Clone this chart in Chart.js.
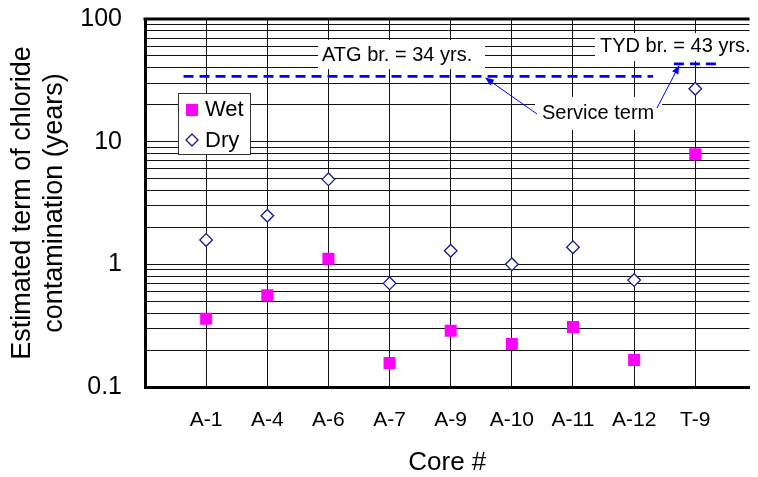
<!DOCTYPE html>
<html>
<head>
<meta charset="utf-8">
<script src="https://cdn.jsdelivr.net/npm/chart.js@4/dist/chart.umd.min.js"></script>
<style>
  html, body { margin: 0; padding: 0; background: #fff; overflow: hidden; }
  canvas { display: block; }
</style>
</head>
<body>
<canvas id="chart" width="758" height="477"></canvas>
<script>
// Core samples and estimated term of chloride contamination (years)
const cores = ['A-1', 'A-4', 'A-6', 'A-7', 'A-9', 'A-10', 'A-11', 'A-12', 'T-9'];
const wetTerm = [0.36, 0.56, 1.11, 0.157, 0.288, 0.224, 0.308, 0.166, 7.9];
const dryTerm = [1.58, 2.49, 4.93, 0.70, 1.29, 1.0, 1.38, 0.744, 27];

// Service terms of the two bridges (years)
const atgService = 34;
const tydService = 43;

// Labelled y ticks (decades); gridlines are drawn at every 1..9 step of each decade
const yLabelTicks = [0.1, 1, 10, 100];

const FONT = "'Liberation Sans', Arial, sans-serif";
const BLUE = '#0000ff';

// Horizontal extents of the service-term lines, in category units
const atgSpan = [0.63, 8.31];
const tydSpan = [8.65, 9.37];

const yGrid = [];
for (let e = -1; e <= 1; e++) {
  for (let m = 1; m <= 9; m++) yGrid.push(+(m * Math.pow(10, e)).toPrecision(3));
}
yGrid.push(100);

const toPoints = arr => arr.map((v, i) => ({ x: i + 1, y: v }));

function arrow(ctx, x0, y0, x1, y1) {
  const ang = Math.atan2(y1 - y0, x1 - x0);
  const len = 9, half = 3.5;
  ctx.save();
  ctx.strokeStyle = BLUE;
  ctx.fillStyle = BLUE;
  ctx.lineWidth = 1;
  ctx.beginPath();
  ctx.moveTo(x0, y0);
  ctx.lineTo(x1 - Math.cos(ang) * len * 0.8, y1 - Math.sin(ang) * len * 0.8);
  ctx.stroke();
  ctx.beginPath();
  ctx.moveTo(x1, y1);
  ctx.lineTo(x1 - Math.cos(ang) * len - Math.sin(ang) * half, y1 - Math.sin(ang) * len + Math.cos(ang) * half);
  ctx.lineTo(x1 - Math.cos(ang) * len + Math.sin(ang) * half, y1 - Math.sin(ang) * len - Math.cos(ang) * half);
  ctx.closePath();
  ctx.fill();
  ctx.restore();
}

function labelBox(ctx, text, x0, y0, x1, y1, tx, ty) {
  ctx.save();
  ctx.fillStyle = '#fff';
  ctx.fillRect(x0, y0, x1 - x0, y1 - y0);
  ctx.fillStyle = '#000';
  ctx.font = '20px ' + FONT;
  ctx.textAlign = 'left';
  ctx.textBaseline = 'middle';
  ctx.fillText(text, tx, ty);
  ctx.restore();
}

const decorations = {
  id: 'decorations',
  beforeDatasetsDraw(chart) {
    const ctx = chart.ctx;
    labelBox(ctx, 'ATG br. = ' + atgService + ' yrs.', 318, 40, 485, 69, 322, 55.5);
    labelBox(ctx, 'TYD br. = ' + tydService + ' yrs.', 595, 33, 758, 61, 600, 46);
    labelBox(ctx, 'Service term', 535, 97, 662, 130, 542, 113);
  },
  afterDatasetsDraw(chart) {
    const ctx = chart.ctx;
    const xs = chart.scales.x, ys = chart.scales.y;
    // arrows from the "Service term" note to both service lines
    arrow(ctx, 537, 114, xs.getPixelForValue(5.56), ys.getPixelForValue(atgService) + 1);
    arrow(ctx, 657, 108, xs.getPixelForValue(8.74), ys.getPixelForValue(tydService) + 1);

    // legend
    ctx.save();
    ctx.fillStyle = '#fff';
    ctx.fillRect(178.5, 93.5, 72, 61);
    ctx.strokeStyle = '#333';
    ctx.lineWidth = 1;
    ctx.strokeRect(178.5, 93.5, 72, 61);
    ctx.fillStyle = '#ff00ff';
    ctx.fillRect(186, 104, 12, 12);
    ctx.beginPath();
    ctx.moveTo(192, 134); ctx.lineTo(198, 140); ctx.lineTo(192, 146); ctx.lineTo(186, 140); ctx.closePath();
    ctx.fillStyle = '#fff';
    ctx.fill();
    ctx.strokeStyle = '#1a1a8c';
    ctx.lineWidth = 1.3;
    ctx.stroke();
    ctx.fillStyle = '#000';
    ctx.font = '22px ' + FONT;
    ctx.textAlign = 'left';
    ctx.textBaseline = 'middle';
    ctx.fillText('Wet', 205, 110);
    ctx.fillText('Dry', 205, 141);
    ctx.restore();
  },
  afterDraw(chart) {
    const { ctx, chartArea } = chart;
    ctx.save();
    ctx.strokeStyle = '#000';
    ctx.lineWidth = 3;
    ctx.beginPath();
    ctx.moveTo(chartArea.left - 1.5, chartArea.top);
    ctx.lineTo(chartArea.right, chartArea.top);
    ctx.stroke();
    ctx.restore();
  }
};

new Chart(document.getElementById('chart'), {
  type: 'scatter',
  data: {
    datasets: [
      {
        label: 'Wet',
        data: toPoints(wetTerm),
        pointStyle: 'rect',
        pointRadius: 8.5,
        backgroundColor: '#ff00ff',
        borderWidth: 0
      },
      {
        label: 'Dry',
        data: toPoints(dryTerm),
        pointStyle: 'rectRot',
        pointRadius: 6.3,
        backgroundColor: '#fff',
        borderColor: '#1a1a8c',
        borderWidth: 1.3
      },
      {
        label: 'ATG service term',
        data: [{ x: atgSpan[0], y: atgService }, { x: atgSpan[1], y: atgService }],
        showLine: true,
        pointRadius: 0,
        borderColor: BLUE,
        borderWidth: 2.7,
        borderDash: [10, 6]
      },
      {
        label: 'TYD service term',
        data: [{ x: tydSpan[0], y: tydService }, { x: tydSpan[1], y: tydService }],
        showLine: true,
        pointRadius: 0,
        borderColor: BLUE,
        borderWidth: 2.7,
        borderDash: [10, 6]
      }
    ]
  },
  options: {
    responsive: false,
    animation: false,
    devicePixelRatio: 1,
    layout: { padding: { top: 19, right: 0, left: 0, bottom: 0 } },
    plugins: { legend: { display: false }, tooltip: { enabled: false } },
    scales: {
      x: {
        type: 'linear',
        min: 0,
        max: 9.887,
        afterBuildTicks: s => { s.ticks = cores.map((_, i) => ({ value: i + 1 })); },
        afterFit: s => { s.height = 90; s.paddingLeft = 0; s.paddingRight = 0; },
        ticks: {
          autoSkip: false,
          maxRotation: 0,
          padding: 21,
          color: '#000',
          font: { family: FONT, size: 21 },
          callback: v => cores[v - 1] ?? ''
        },
        grid: { color: '#111', lineWidth: 1, drawTicks: false },
        border: { color: '#000', width: 3 },
        title: {
          display: true,
          text: 'Core #',
          color: '#000',
          font: { family: FONT, size: 26, lineHeight: '28px' },
          padding: { top: 0, bottom: 0 }
        }
      },
      y: {
        type: 'logarithmic',
        min: 0.1,
        max: 100,
        afterBuildTicks: s => { s.ticks = yGrid.map(v => ({ value: v, major: yLabelTicks.includes(v) })); },
        afterFit: s => { s.width = 145; s.paddingTop = 0; s.paddingBottom = 0; },
        ticks: {
          autoSkip: false,
          padding: 23,
          color: '#000',
          font: { family: FONT, size: 25 },
          callback: v => yLabelTicks.includes(v) ? String(v) : ''
        },
        grid: { color: '#111', lineWidth: 1, drawTicks: false },
        border: { color: '#000', width: 3 },
        title: {
          display: true,
          text: ['Estimated term of chloride', 'contamination (years)'],
          color: '#000',
          font: { family: FONT, size: 27, lineHeight: '32px' },
          padding: { top: 7, bottom: 0 }
        }
      }
    }
  },
  plugins: [decorations]
});
</script>
</body>
</html>
